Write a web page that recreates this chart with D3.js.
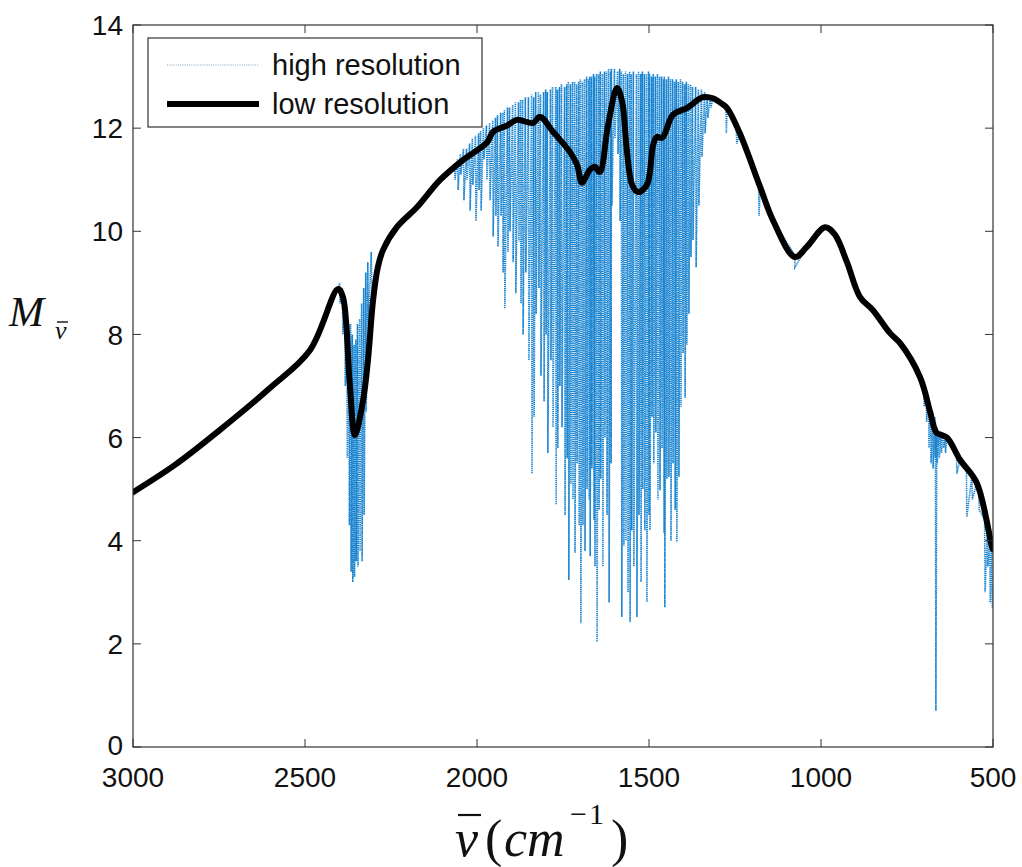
<!DOCTYPE html>
<html>
<head>
<meta charset="utf-8">
<script src="https://cdn.jsdelivr.net/npm/d3@7"></script>
<style>
  body { margin: 0; background: #fff; }
  .tick-label { font-family: "Liberation Sans", Arial, sans-serif; font-size: 28px; fill: #111; }
  .legend-text { font-family: "Liberation Sans", Arial, sans-serif; font-size: 29px; fill: #111; }
  .math { font-family: "Liberation Serif", "Times New Roman", serif; font-style: italic; fill: #111; }
</style>
</head>
<body>
<div id="chart"></div>
<script>
// low resolution curve: wavenumber (cm^-1), M value
const lowWn  = [3000, 2878, 2747, 2602, 2485, 2404, 2390, 2370, 2355, 2331, 2317, 2302, 2288, 2273, 2233, 2174, 2108, 2041, 1971, 1953, 1913, 1884, 1837, 1817, 1779, 1730, 1709, 1695, 1672, 1657, 1643, 1619, 1593, 1578, 1564, 1549, 1532, 1506, 1488, 1477, 1462, 1430, 1390, 1343, 1314, 1294, 1273, 1236, 1177, 1140, 1076, 1041, 988, 959, 924, 887, 849, 800, 770, 712, 683, 669, 663, 634, 596, 547, 503, 500];
const lowVal = [4.94, 5.47, 6.15, 6.96, 7.70, 8.88, 8.73, 7.06, 6.05, 6.73, 7.5, 8.67, 9.31, 9.64, 10.08, 10.47, 10.99, 11.38, 11.72, 11.93, 12.05, 12.16, 12.1, 12.22, 11.93, 11.54, 11.29, 10.94, 11.19, 11.25, 11.15, 12.06, 12.78, 12.51, 11.54, 10.9, 10.76, 10.9, 11.67, 11.83, 11.81, 12.26, 12.39, 12.6, 12.58, 12.5, 12.39, 11.9, 10.86, 10.22, 9.5, 9.7, 10.08, 9.93, 9.39, 8.73, 8.47, 8.03, 7.83, 7.17, 6.5, 6.15, 6.09, 6.0, 5.57, 5.12, 3.88, 3.83];

// high resolution absorption lines: [wavenumber, top, bottom]
const co2Lines = [
  [2398, 9.0, 8.6], [2390, 8.9, 8.0], [2383, 8.7, 7.0], [2377, 8.4, 5.6], [2371, 8.2, 4.3],
  [2366, 8.2, 3.4], [2361, 8.0, 3.2], [2356, 7.8, 3.3], [2351, 7.9, 3.6], [2346, 8.2, 3.5],
  [2340, 8.3, 3.8], [2334, 8.6, 3.6], [2328, 8.9, 4.5], [2322, 9.2, 6.5], [2316, 9.4, 8.2],
  [2306, 9.6, 9.0]
];

const waterLines = [
  [2064, 11.3, 11.0], [2055, 11.4, 10.8], [2047, 11.5, 11.1], [2038, 11.6, 10.6], [2029, 11.6, 11.0],
  [2020, 11.7, 10.4], [2012, 11.8, 10.9], [2003, 11.85, 10.2], [1994, 11.9, 10.8], [1988, 11.95, 10.4],
  [1980, 12.0, 11.4], [1971, 12.05, 11.0], [1962, 12.1, 10.6], [1953, 12.15, 9.9], [1945, 12.2, 10.3],
  [1939, 12.25, 9.7], [1930, 12.3, 10.3], [1924, 12.3, 9.2], [1919, 12.35, 8.5], [1910, 12.4, 9.6],
  [1904, 12.4, 10.0], [1895, 12.45, 9.4], [1887, 12.5, 8.8], [1878, 12.5, 9.8], [1872, 12.55, 8.6],
  [1866, 12.55, 8.0], [1858, 12.6, 9.2], [1849, 12.6, 7.5], [1840, 12.65, 5.3], [1834, 12.6, 6.4],
  [1828, 12.7, 8.4], [1820, 12.7, 8.9], [1814, 12.65, 7.2], [1805, 12.7, 6.7], [1799, 12.75, 8.0],
  [1794, 12.7, 5.7], [1785, 12.75, 7.5], [1779, 12.8, 6.2], [1770, 12.8, 4.7], [1765, 12.75, 5.8],
  [1759, 12.8, 7.0], [1753, 12.85, 6.2], [1744, 12.8, 4.5], [1738, 12.85, 5.6], [1733, 12.9, 3.24],
  [1727, 12.85, 5.1], [1721, 12.9, 4.8], [1715, 12.9, 3.76], [1709, 12.85, 5.5], [1703, 12.9, 4.3],
  [1698, 12.95, 2.4], [1692, 12.9, 4.3], [1686, 12.95, 3.8], [1680, 13.0, 5.0], [1674, 12.95, 4.8],
  [1671, 13.0, 3.7], [1666, 13.0, 5.4], [1660, 13.05, 4.4], [1657, 13.0, 3.5], [1651, 13.05, 2.04],
  [1645, 13.05, 4.6], [1640, 13.1, 5.2], [1634, 13.05, 3.5], [1628, 13.1, 6.0], [1622, 13.1, 4.5],
  [1616, 13.15, 2.8], [1610, 13.1, 5.5], [1608, 13.15, 10.5], [1599, 13.15, 11.8], [1590, 13.1, 11.5],
  [1584, 13.15, 10.2], [1579, 13.1, 2.52], [1573, 13.05, 3.9], [1567, 13.1, 4.0], [1561, 13.05, 3.0],
  [1555, 13.1, 2.42], [1550, 13.05, 4.2], [1544, 13.1, 3.5], [1535, 13.05, 2.52], [1529, 13.1, 4.5],
  [1523, 13.05, 3.2], [1518, 13.1, 5.0], [1512, 13.05, 4.2], [1506, 13.05, 2.81], [1500, 13.1, 4.5],
  [1497, 13.05, 4.21], [1491, 13.0, 6.4], [1486, 13.05, 5.5], [1480, 13.0, 6.1], [1474, 13.05, 4.8],
  [1468, 13.0, 4.98], [1462, 13.0, 5.8], [1456, 12.95, 4.15], [1454, 13.0, 2.71], [1448, 12.95, 5.2],
  [1442, 13.0, 5.24], [1436, 12.95, 4.0], [1430, 12.95, 5.5], [1424, 12.9, 4.6], [1419, 12.95, 3.98],
  [1413, 12.9, 5.24], [1407, 12.95, 6.6], [1401, 12.9, 7.64], [1395, 12.85, 6.77], [1390, 12.9, 7.8],
  [1384, 12.85, 8.4], [1378, 12.85, 9.5], [1372, 12.8, 9.83], [1363, 12.8, 9.3], [1355, 12.75, 10.5],
  [1346, 12.75, 11.44], [1337, 12.7, 11.9], [1329, 12.65, 12.2], [1320, 12.6, 12.4]
];

const qBranchLines = [
  [700, 7.0, 6.6], [693, 6.9, 6.3], [686, 6.8, 5.8], [680, 6.6, 5.5], [674, 6.5, 5.4],
  [668, 6.4, 5.6], [666, 6.3, 0.7], [662, 6.2, 5.5], [656, 6.1, 5.6], [650, 6.1, 5.7],
  [644, 6.0, 5.8], [638, 5.95, 5.7]
];

const edgeLines = [
  [523, 4.4, 3.0], [515, 4.2, 3.5], [508, 4.0, 2.8], [502, 3.9, 2.7]
];

const scatteredLines = [
  [1275, 12.45, 11.9], [1245, 12.0, 11.7], [1180, 10.9, 10.3], [1076, 9.55, 9.3],
  [605, 5.7, 5.3], [576, 5.45, 4.46], [560, 5.25, 4.8], [540, 5.0, 4.6]
];

const xTicks = [3000, 2500, 2000, 1500, 1000, 500];
const yTicks = [0, 2, 4, 6, 8, 10, 12, 14];
const legendLabels = ["high resolution", "low resolution"];

const W = 1022, H = 867;
const margin = {top: 25, right: 29, bottom: 120, left: 133};
const width = W - margin.left - margin.right;   // 860
const height = H - margin.top - margin.bottom;  // 722

const svg = d3.select("#chart").append("svg")
    .attr("width", W)
    .attr("height", H);

const g = svg.append("g")
    .attr("transform", `translate(${margin.left},${margin.top})`);

const x = d3.scaleLinear().domain([3000, 500]).range([0, width]);
const y = d3.scaleLinear().domain([0, 14]).range([height, 0]);

// high resolution trace: continuum from low-res points outside the bands + absorption lines
const bands = [co2Lines, waterLines, qBranchLines, edgeLines];
const inBand = wn => bands.some(b => {
    const ws = b.map(d => d[0]);
    return wn <= d3.max(ws) + 2 && wn >= d3.min(ws) - 2;
});
let hiPts = [];
lowWn.forEach((wn, i) => { if (!inBand(wn)) hiPts.push([wn, lowVal[i]]); });
bands.concat([scatteredLines]).forEach(b => {
    b.forEach(d => {
        hiPts.push([d[0] + 1.4, d[1]]);
        hiPts.push([d[0], d[2]]);
    });
});
hiPts.sort((a, b) => b[0] - a[0]);

g.append("clipPath").attr("id", "plot-clip")
    .append("rect").attr("width", width).attr("height", height);

const hiLine = d3.line().x(d => x(d[0])).y(d => y(d[1]));
g.append("path")
    .datum(hiPts)
    .attr("clip-path", "url(#plot-clip)")
    .attr("fill", "none")
    .attr("stroke", "#1a84d0")
    .attr("stroke-width", 1.6)
    .attr("stroke-dasharray", "1.3,0.8")
    .attr("d", hiLine);

const lowPts = lowWn.map((wn, i) => [wn, lowVal[i]]);
const lowLine = d3.line().x(d => x(d[0])).y(d => y(d[1])).curve(d3.curveCatmullRom.alpha(0.5));
g.append("path")
    .datum(lowPts)
    .attr("clip-path", "url(#plot-clip)")
    .attr("fill", "none")
    .attr("stroke", "#000")
    .attr("stroke-width", 6)
    .attr("stroke-linejoin", "round")
    .attr("stroke-linecap", "round")
    .attr("d", lowLine);

// box
g.append("rect")
    .attr("width", width).attr("height", height)
    .attr("fill", "none").attr("stroke", "#333").attr("stroke-width", 1.2);

const tickLen = 8;
xTicks.forEach(t => {
    g.append("line").attr("x1", x(t)).attr("x2", x(t)).attr("y1", height).attr("y2", height - tickLen)
        .attr("stroke", "#333");
    g.append("line").attr("x1", x(t)).attr("x2", x(t)).attr("y1", 0).attr("y2", tickLen)
        .attr("stroke", "#333");
    g.append("text").attr("class", "tick-label")
        .attr("x", x(t)).attr("y", height + 40)
        .attr("text-anchor", "middle")
        .text(t);
});
yTicks.forEach(t => {
    g.append("line").attr("x1", 0).attr("x2", tickLen).attr("y1", y(t)).attr("y2", y(t))
        .attr("stroke", "#333");
    g.append("line").attr("x1", width).attr("x2", width - tickLen).attr("y1", y(t)).attr("y2", y(t))
        .attr("stroke", "#333");
    g.append("text").attr("class", "tick-label")
        .attr("x", -10).attr("y", y(t))
        .attr("dy", t === 0 ? "0.3em" : "0.36em")
        .attr("text-anchor", "end")
        .text(t);
});

// legend
const leg = svg.append("g").attr("transform", "translate(148,38)");
leg.append("rect").attr("width", 334).attr("height", 89)
    .attr("fill", "#fff").attr("stroke", "#333").attr("stroke-width", 1.2);
leg.append("line").attr("x1", 19).attr("x2", 111).attr("y1", 27).attr("y2", 27)
    .attr("stroke", "#7fa6c4").attr("stroke-width", 1.1).attr("stroke-dasharray", "1,1.2");
leg.append("line").attr("x1", 19).attr("x2", 111).attr("y1", 66).attr("y2", 66)
    .attr("stroke", "#000").attr("stroke-width", 6);
legendLabels.forEach((lab, i) => {
    leg.append("text").attr("class", "legend-text")
        .attr("x", 124).attr("y", i === 0 ? 27 : 66)
        .attr("dy", "0.36em")
        .text(lab);
});

// y label: M with subscript v-bar
svg.append("text").attr("class", "math")
    .attr("x", 9).attr("y", 326)
    .style("font-size", "42px")
    .text("M");
svg.append("text").attr("class", "math")
    .attr("x", 55).attr("y", 339)
    .style("font-size", "26px")
    .text("v");
svg.append("line").attr("x1", 57).attr("x2", 68).attr("y1", 322).attr("y2", 322)
    .attr("stroke", "#111").attr("stroke-width", 1.4);

// x label: v-bar (cm^-1), glyphs placed individually
const xLabelParts = [
    {t: "v", x: 455, y: 856, size: 52, italic: true},
    {t: "(", x: 485, y: 856, size: 52, italic: false},
    {t: "c", x: 504, y: 856, size: 52, italic: true},
    {t: "m", x: 527, y: 856, size: 52, italic: true},
    {t: "\u2212", x: 570, y: 824, size: 30, italic: false},
    {t: "1", x: 589, y: 824, size: 30, italic: false},
    {t: ")", x: 611, y: 856, size: 52, italic: false}
];
xLabelParts.forEach(p => {
    svg.append("text").attr("class", "math")
        .attr("x", p.x).attr("y", p.y)
        .style("font-size", p.size + "px")
        .style("font-style", p.italic ? "italic" : "normal")
        .text(p.t);
});
svg.append("line").attr("x1", 458).attr("x2", 481).attr("y1", 815).attr("y2", 815)
    .attr("stroke", "#111").attr("stroke-width", 2.2);
</script>
</body>
</html>
